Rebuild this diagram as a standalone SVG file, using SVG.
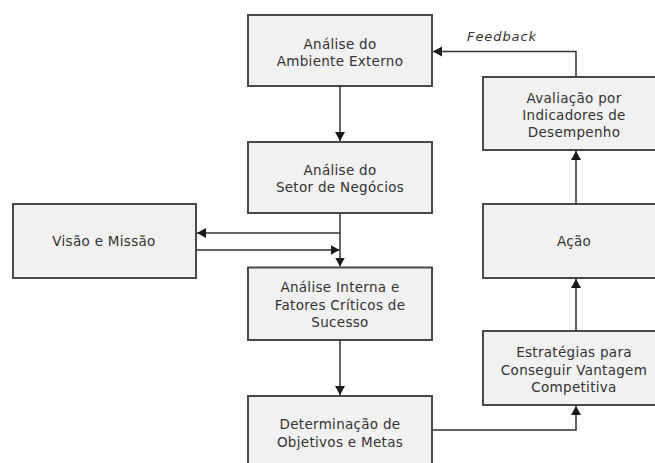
<svg xmlns="http://www.w3.org/2000/svg" width="655" height="463" viewBox="0 0 655 463">
<defs>
<marker id="arr" markerUnits="userSpaceOnUse" markerWidth="11" markerHeight="11" refX="9" refY="5.5" orient="auto">
<path d="M0,0.5 L9,5.5 L0,10.5 z" fill="#1a1a1a"/>
</marker>
<style>
.box{fill:#f1f1f1;stroke:#4a4a4a;stroke-width:2}
.t{font-family:"DejaVu Sans",Verdana,sans-serif;font-size:13.5px;fill:#333;text-anchor:middle;letter-spacing:0.3px}
.fb{font-family:"DejaVu Sans",Verdana,sans-serif;font-size:13px;font-style:italic;fill:#333;text-anchor:middle;letter-spacing:0.9px}
.c{fill:none;stroke:#333;stroke-width:1.5}
</style>
</defs>
<rect width="655" height="463" fill="#fff"/>
<g id="n1"><rect class="box" x="248" y="15" width="184" height="71"/>
<text class="t" x="340" y="49">Análise do</text><text class="t" x="340" y="66">Ambiente Externo</text></g>
<g id="n2"><rect class="box" x="248" y="142" width="184" height="71"/>
<text class="t" x="340" y="174.5">Análise do</text><text class="t" x="340" y="191.5">Setor de Negócios</text></g>
<g id="n3"><rect class="box" x="248" y="267.5" width="184" height="72.5"/>
<text class="t" x="340" y="292">Análise Interna e</text><text class="t" x="340" y="309.5">Fatores Críticos de</text><text class="t" x="340" y="327">Sucesso</text></g>
<g id="n4"><rect class="box" x="248" y="396" width="184" height="80"/>
<text class="t" x="340" y="429">Determinação de</text><text class="t" x="340" y="446.5">Objetivos e Metas</text></g>
<g id="n5"><rect class="box" x="13" y="204" width="183" height="74"/>
<text class="t" x="104" y="246">Visão e Missão</text></g>
<g id="n6"><rect class="box" x="483" y="77" width="190" height="73"/>
<text class="t" x="574" y="103">Avaliação por</text><text class="t" x="574" y="120">Indicadores de</text><text class="t" x="574" y="137">Desempenho</text></g>
<g id="n7"><rect class="box" x="483" y="204" width="190" height="74"/>
<text class="t" x="574" y="246">Ação</text></g>
<g id="n8"><rect class="box" x="483" y="331" width="190" height="74"/>
<text class="t" x="574" y="357">Estratégias para</text><text class="t" x="574" y="374.5">Conseguir Vantagem</text><text class="t" x="574" y="392">Competitiva</text></g>
<g id="connectors">
<path class="c" d="M340,86 V141" marker-end="url(#arr)"/>
<path class="c" d="M340,213 V266.5" marker-end="url(#arr)"/>
<path class="c" d="M340,233 H197" marker-end="url(#arr)"/>
<path class="c" d="M196,250 H339.5" marker-end="url(#arr)"/>
<path class="c" d="M340,340 V395" marker-end="url(#arr)"/>
<path class="c" d="M432,430 H576 V406" marker-end="url(#arr)"/>
<path class="c" d="M576,331 V279" marker-end="url(#arr)"/>
<path class="c" d="M576,204 V151" marker-end="url(#arr)"/>
<path class="c" d="M576,77 V51.5 H433" marker-end="url(#arr)"/>
<text class="fb" x="502" y="41">Feedback</text>
</g>
</svg>
